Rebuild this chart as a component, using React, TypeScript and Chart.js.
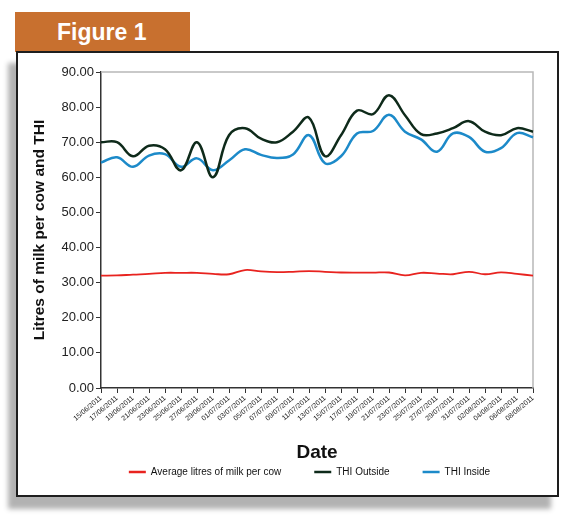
import React, { useEffect, useRef } from 'react';
import { Chart, registerables } from 'chart.js';

Chart.register(...registerables);

// Daily readings, every second day from 15 June to 8 August 2011
const dates = [
  '15/06/2011', '17/06/2011', '19/06/2011', '21/06/2011', '23/06/2011', '25/06/2011', '27/06/2011',
  '29/06/2011', '01/07/2011', '03/07/2011', '05/07/2011', '07/07/2011', '09/07/2011', '11/07/2011',
  '13/07/2011', '15/07/2011', '17/07/2011', '19/07/2011', '21/07/2011', '23/07/2011', '25/07/2011',
  '27/07/2011', '29/07/2011', '31/07/2011', '02/08/2011', '04/08/2011', '06/08/2011', '08/08/2011',
];

const avgMilk = [
  32.0, 32.05, 32.3, 32.5, 32.8, 32.8, 32.8, 32.5, 32.4, 33.6, 33.2, 33.0, 33.1, 33.3,
  33.1, 32.9, 32.85, 32.85, 32.9, 32.1, 32.8, 32.6, 32.4, 33.1, 32.4, 32.95, 32.5, 32.0,
];

const thiOutside = [
  70, 70, 66, 69, 68, 62, 70, 60, 72, 74, 71, 70, 73, 77,
  66, 72, 79, 78, 83.4, 77.7, 72.3, 72.5, 74, 76, 73, 72, 74, 73,
];

const thiInside = [
  64.2, 65.7, 63, 66.2, 66.6, 63, 65.4, 62, 64.8, 68, 66.4, 65.5, 66.5, 72,
  64, 66, 72.5, 73.2, 77.8, 73, 70.8, 67.3, 72.5, 71.5, 67.3, 68.3, 72.6, 71.4,
];

const yMin = 0;
const yMax = 90;
const yStep = 10;

const FONT = "'Liberation Sans', Arial, sans-serif";

// Light grey top and right edges of the plot area
const plotFrame = {
  id: 'plotFrame',
  beforeDatasetsDraw(chart: any) {
    const { ctx, chartArea: a } = chart;
    ctx.save();
    ctx.strokeStyle = '#b8b8b8';
    ctx.lineWidth = 1.5;
    ctx.beginPath();
    ctx.moveTo(a.left, a.top);
    ctx.lineTo(a.right, a.top);
    ctx.lineTo(a.right, a.bottom);
    ctx.stroke();
    ctx.restore();
  },
};

// Move the legend up under the axis title and a little to the right
const legendPlace = {
  id: 'legendPlace',
  afterLayout(chart: any) {
    const lg = chart.legend;
    if (lg) {
      lg.top -= 27;
      lg.bottom -= 27;
      lg.left += 28;
      lg.right += 28;
    }
  },
};

function MilkChart() {
  const ref = useRef<HTMLCanvasElement>(null);

  useEffect(() => {
    if (!ref.current) return;
    const chart = new Chart(ref.current, {
      type: 'line',
      data: {
        labels: dates,
        datasets: [
          {
            label: 'Average litres of milk per cow',
            data: avgMilk,
            borderColor: '#e8231f',
            backgroundColor: '#e8231f',
            borderWidth: 1.8,
            pointRadius: 0,
            tension: 0.4,
          },
          {
            label: 'THI Outside',
            data: thiOutside,
            borderColor: '#0e2a1a',
            backgroundColor: '#0e2a1a',
            borderWidth: 2.5,
            pointRadius: 0,
            tension: 0.4,
          },
          {
            label: 'THI Inside',
            data: thiInside,
            borderColor: '#1c8ac9',
            backgroundColor: '#1c8ac9',
            borderWidth: 2.5,
            pointRadius: 0,
            tension: 0.4,
          },
        ],
      },
      options: {
        responsive: false,
        animation: false,
        devicePixelRatio: 1,
        layout: { padding: { left: 30, right: 42, top: 72, bottom: 1 } },
        plugins: {
          tooltip: { enabled: false },
          legend: {
            position: 'bottom',
            fullSize: true,
            labels: {
              boxWidth: 17,
              boxHeight: 2.5,
              padding: 33,
              color: '#111',
              font: { family: FONT, size: 10 },
              generateLabels: (c: any) =>
                c.data.datasets.map((ds: any, i: number) => ({
                  text: ds.label,
                  fillStyle: ds.borderColor,
                  strokeStyle: ds.borderColor,
                  lineWidth: 0,
                  datasetIndex: i,
                  hidden: false,
                  fontColor: '#111',
                })),
            },
          },
        },
        scales: {
          x: {
            type: 'category',
            afterFit: (s: any) => {
              s.height = 73;
            },
            grid: { display: true, drawOnChartArea: false, tickLength: 5, color: '#333', lineWidth: 1 },
            border: { color: '#333', width: 1.5 },
            ticks: {
              autoSkip: false,
              minRotation: 40,
              maxRotation: 40,
              padding: 1,
              color: '#222',
              font: { family: FONT, size: 7 },
            },
            title: {
              display: true,
              text: 'Date',
              color: '#111',
              font: { family: FONT, size: 19, weight: 'bold', lineHeight: 1.2 },
              padding: { top: 0, bottom: -3 },
            },
          },
          y: {
            min: yMin,
            max: yMax,
            afterFit: (s: any) => {
              s.width = 71;
            },
            grid: { display: true, drawOnChartArea: false, tickLength: 5, color: '#333', lineWidth: 1 },
            border: { color: '#333', width: 1.5 },
            ticks: {
              stepSize: yStep,
              padding: 2,
              color: '#222',
              font: { family: FONT, size: 13 },
              callback: (v: any) => Number(v).toFixed(2),
            },
            title: {
              display: true,
              text: 'Litres of milk per cow and THI',
              color: '#111',
              font: { family: FONT, size: 15.5, weight: 'bold', lineHeight: 1.2 },
              padding: { top: 0, bottom: 0 },
            },
          },
        },
      },
      plugins: [plotFrame, legendPlace],
    });
    return () => chart.destroy();
  }, []);

  return (
    <canvas
      ref={ref}
      width={575}
      height={515}
      style={{ position: 'absolute', left: 0, top: 0, width: 575, height: 515 }}
    />
  );
}

export default function App() {
  return (
    <div style={{ position: 'absolute', left: 0, top: 0, width: 575, height: 515, overflow: 'hidden', background: '#fff' }}>
      <div
        style={{
          position: 'absolute',
          left: 15,
          top: 12,
          width: 175,
          height: 40,
          background: '#c8702f',
        }}
      >
        <div
          style={{
            position: 'absolute',
            left: 42,
            top: 6,
            color: '#fff',
            fontFamily: "'Liberation Sans', Arial, sans-serif",
            fontWeight: 'bold',
            fontSize: 23,
            lineHeight: '28px',
            whiteSpace: 'nowrap',
          }}
        >
          Figure 1
        </div>
      </div>
      <div
        style={{
          position: 'absolute',
          left: 16,
          top: 51,
          width: 543,
          height: 446,
          boxSizing: 'border-box',
          border: '2px solid #1e1e1e',
          background: '#fff',
          boxShadow: '-8px 12px 5px rgba(0,0,0,0.3)',
        }}
      />
      <MilkChart />
    </div>
  );
}
